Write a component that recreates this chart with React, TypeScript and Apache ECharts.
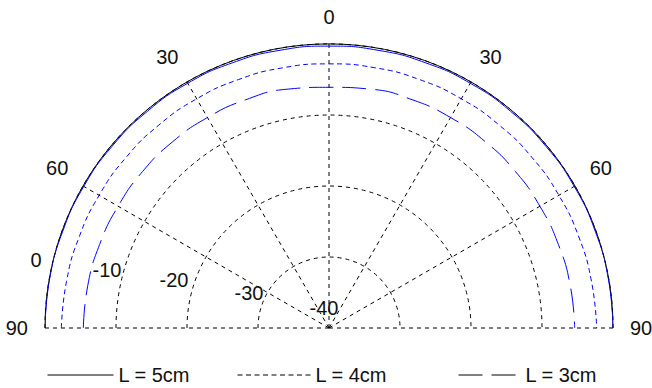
import React, { useEffect, useRef } from "react";
import * as echarts from "echarts";

// Angles (degrees from vertical) at which the patterns were read
const angles = [-90, -80, -70, -60, -50, -40, -30, -20, -10, 0, 10, 20, 30, 40, 50, 60, 70, 80, 90];
const seriesNames = ["L = 5cm", "L = 4cm", "L = 3cm"];
// Relative level in dB
const l5cm = [0, -0.05, -0.1, -0.12, -0.15, -0.18, -0.2, -0.25, -0.28, -0.3, -0.28, -0.25, -0.2, -0.18, -0.15, -0.12, -0.1, -0.05, 0];
const l4cm = [-2.3, -2.45, -2.55, -2.62, -2.66, -2.7, -2.73, -2.76, -2.78, -2.8, -2.78, -2.76, -2.73, -2.7, -2.66, -2.62, -2.55, -2.45, -2.3];
const l3cm = [-5.4, -5.5, -5.62, -5.7, -5.72, -5.75, -5.77, -5.78, -5.85, -6.1, -5.85, -5.78, -5.77, -5.75, -5.72, -5.7, -5.62, -5.5, -5.4];
// Radial tick labels (dB)
const ringTicks = [0, -10, -20, -30, -40];
// Pixel offsets of each ring label from its ring on the baseline (style only)
const ringLabelOffsets = [[-9, -68], [-9, -58], [-13, -48], [-9, -35], [-5, -20]];

const FONT = "'Liberation Sans', Arial, sans-serif";
const gridLine = { color: "#000", width: 1, type: [4, 4] as number[] };

export default function App() {
  const ref = useRef<HTMLDivElement>(null);
  useEffect(() => {
    if (!ref.current) return;
    const chart = echarts.init(ref.current, undefined, { renderer: "svg" });
    const lineStyles: any[] = [
      { color: "#0000ff", width: 1, type: "solid" },
      { color: "#0000ff", width: 1, type: [5, 3.5] },
      { color: "#0000ff", width: 1, type: [24, 9] },
    ];
    const values = [l5cm, l4cm, l3cm];
    const legendBase = {
      top: 365,
      padding: 0,
      itemHeight: 20,
      textStyle: { color: "#111", fontSize: 20, fontFamily: FONT },
      lineStyle: { color: "#000", width: 1 },
      itemStyle: { opacity: 0, borderWidth: 0 },
      selectedMode: false,
    };
    chart.setOption({
      animation: false,
      textStyle: { fontFamily: FONT },
      polar: { center: [329, 328], radius: 284 },
      angleAxis: {
        type: "value",
        min: -90,
        max: 90,
        interval: 30,
        startAngle: 180,
        endAngle: 0,
        clockwise: true,
        axisLine: { show: true, lineStyle: { color: "#000", width: 1 } },
        axisTick: { show: false },
        axisLabel: {
          margin: 17,
          color: "#111",
          fontSize: 20,
          fontFamily: FONT,
          formatter: (v: number) => String(Math.abs(v)),
        },
        splitLine: { show: true, lineStyle: gridLine },
      },
      radiusAxis: {
        type: "value",
        min: -40,
        max: 0,
        interval: 10,
        axisLine: { show: false },
        axisTick: { show: false },
        axisLabel: { show: false },
        splitLine: { show: true, lineStyle: gridLine },
      },
      legend: [
        { ...legendBase, data: [seriesNames[0]], left: 47, itemWidth: 66 },
        { ...legendBase, data: [seriesNames[1]], left: 237, itemWidth: 73 },
        { ...legendBase, data: [seriesNames[2]], left: 458, itemWidth: 62 },
      ],
      series: [
        ...seriesNames.map((name, s) => ({
          name,
          type: "line",
          coordinateSystem: "polar",
          data: angles.map((a, i) => [values[s][i], a]),
          symbol: "none",
          showSymbol: false,
          smooth: true,
          color: "#0000ff",
          lineStyle: lineStyles[s],
          silent: true,
          z: 3,
        })),
        {
          name: "ringLabels",
          type: "scatter",
          coordinateSystem: "polar",
          symbolSize: 0,
          silent: true,
          itemStyle: { opacity: 1 },
          data: ringTicks.map((v, i) => ({
            value: [v, -90],
            label: { offset: ringLabelOffsets[i] },
          })),
          label: {
            show: true,
            position: "inside",
            color: "#111",
            opacity: 1,
            fontSize: 20,
            fontFamily: FONT,
            formatter: (p: any) => String(p.value[0]),
          },
          z: 4,
        },
      ],
    });
    return () => chart.dispose();
  }, []);
  return (
    <div
      ref={ref}
      style={{ position: "absolute", left: 0, top: 0, width: 652, height: 388, background: "#fff" }}
    />
  );
}
